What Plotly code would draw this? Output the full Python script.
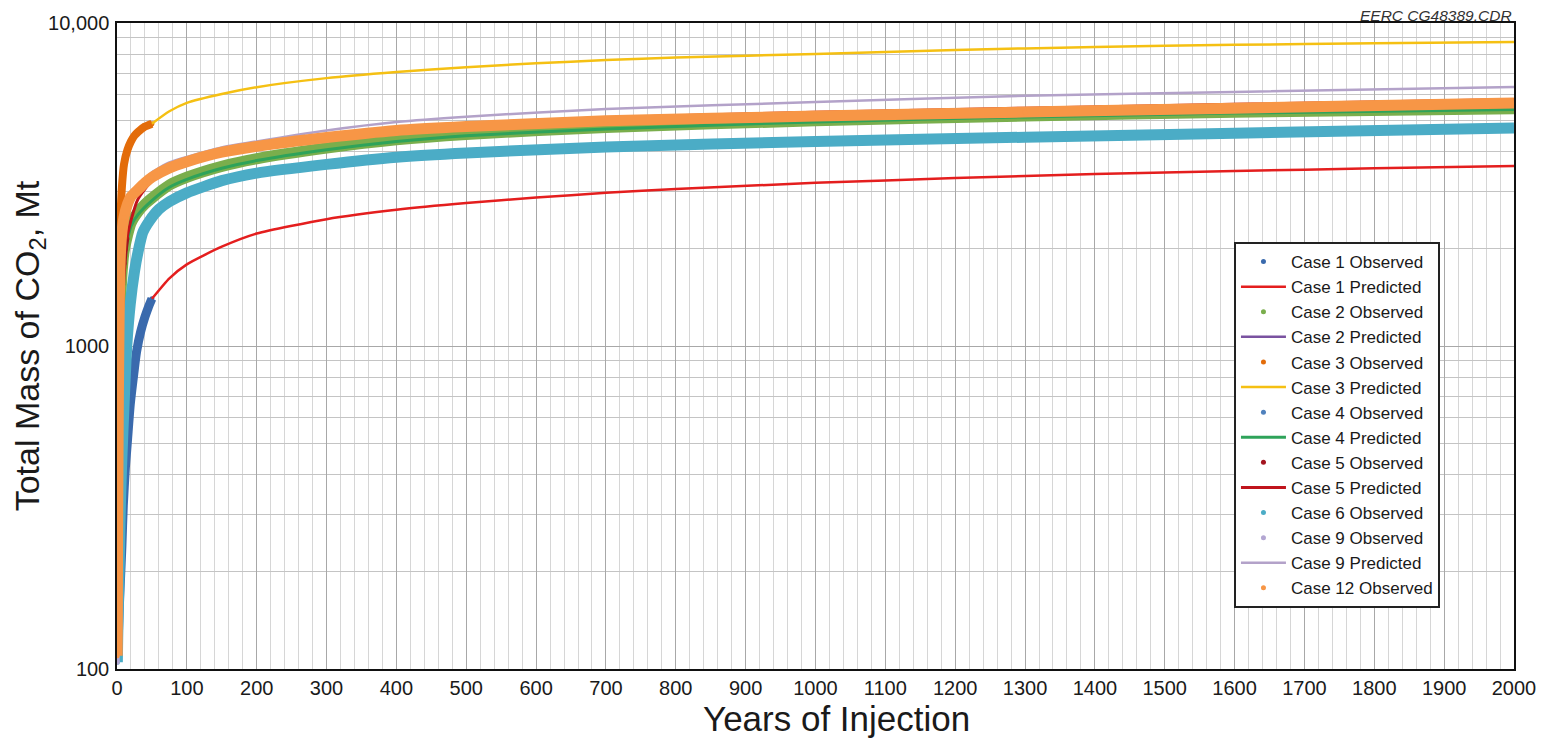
import plotly.graph_objects as go

# ---------------- data ----------------
case1_obs_x = [1, 3, 5, 7, 9, 12, 15, 19, 24, 28, 34, 40, 45, 50]
case1_obs_y = [110, 150, 190, 240, 320, 420, 510, 660, 820, 960, 1110, 1230, 1320, 1400]

case1_pred_x = [50, 75, 100, 150, 200, 300, 400, 500, 600, 700, 800, 1000, 1200, 1400, 1600, 1800, 2000]
case1_pred_y = [1400, 1620, 1790, 2030, 2230, 2470, 2640, 2770, 2880, 2980, 3060, 3200, 3310, 3410, 3480, 3550, 3610]

case2_obs_x = [0.3, 1, 2, 3, 5, 7, 10, 15, 20, 30, 40, 50, 75, 100, 150, 200, 300, 400, 500, 700, 1000, 1300, 1600, 2000]
case2_obs_y = [120, 250, 500, 800, 1300, 1650, 1950, 2200, 2400, 2600, 2750, 2870, 3150, 3330, 3600, 3800, 4100, 4350, 4520, 4750, 4980, 5150, 5290, 5430]

case2_pred_x = [10, 20, 30, 50, 75, 100, 150, 200, 300, 400, 500, 700, 1000, 1300, 1600, 2000]
case2_pred_y = [2450, 2850, 3000, 3280, 3520, 3680, 3950, 4120, 4400, 4620, 4760, 4960, 5130, 5280, 5430, 5620]

case3_obs_x = [0.2, 0.5, 1, 2, 3, 5, 7, 10, 15, 20, 25, 30, 40, 50]
case3_obs_y = [130, 280, 550, 1100, 1650, 2500, 3100, 3650, 4050, 4300, 4480, 4600, 4780, 4880]

case3_pred_x = [50, 75, 100, 150, 200, 300, 400, 500, 600, 700, 800, 1000, 1200, 1400, 1600, 1800, 2000]
case3_pred_y = [4880, 5330, 5660, 6030, 6330, 6750, 7050, 7300, 7500, 7680, 7820, 8020, 8250, 8430, 8560, 8650, 8740]

case4_obs_x = [0.5, 1, 2, 3, 4, 5]
case4_obs_y = [150, 300, 600, 1000, 1400, 1800]

case4_pred_x = [10, 20, 30, 50, 75, 100, 150, 200, 300, 400, 500, 700, 1000, 1300, 1600, 2000]
case4_pred_y = [1900, 2350, 2550, 2820, 3100, 3280, 3550, 3750, 4050, 4300, 4480, 4700, 4940, 5120, 5260, 5400]

case5_obs_x = [0.3, 1, 2, 4, 6, 8, 10, 12, 14]
case5_obs_y = [110, 200, 400, 800, 1200, 1550, 1800, 2000, 2150]

case5_pred_x = [14, 20, 30, 50, 75, 100, 150, 200, 300, 400, 500, 700, 1000, 1300, 1600, 2000]
case5_pred_y = [2150, 2450, 2850, 3250, 3550, 3730, 4000, 4180, 4470, 4720, 4870, 5090, 5290, 5450, 5600, 5800]

case6_obs_x = [0.5, 1, 2, 3, 5, 7, 10, 14, 19, 25, 30, 37, 47, 60, 75, 100, 150, 200, 300, 400, 500, 700, 1000, 1300, 1600, 2000]
case6_obs_y = [105, 125, 160, 200, 330, 450, 650, 1000, 1350, 1700, 1950, 2250, 2450, 2650, 2800, 2980, 3250, 3430, 3650, 3840, 3960, 4130, 4300, 4430, 4560, 4730]

case9_obs_x = [0.3, 1, 2, 3, 4, 5, 7]
case9_obs_y = [105, 170, 330, 550, 800, 1100, 1600]

case9_pred_x = [7, 10, 20, 30, 50, 75, 100, 150, 200, 300, 400, 500, 700, 1000, 1300, 1600, 2000]
case9_pred_y = [1600, 2150, 2800, 3100, 3450, 3700, 3850, 4120, 4300, 4650, 4940, 5130, 5420, 5690, 5950, 6120, 6340]

case12_obs_x = [0.3, 0.6, 1, 2, 3, 4, 5, 7, 10, 15, 20, 30, 40, 50, 75, 100, 150, 200, 300, 400, 500, 700, 1000, 1300, 1600, 2000]
case12_obs_y = [110, 180, 300, 700, 1200, 1650, 1950, 2250, 2500, 2750, 2900, 3050, 3200, 3330, 3560, 3720, 3980, 4150, 4420, 4650, 4780, 4980, 5150, 5300, 5450, 5650]

x_ticks = list(range(0, 2001, 100))
y_ticks = [100, 1000, 10000]
y_tick_text = ["100", "1000", "10,000"]

FONT = "Arial, Liberation Sans, Helvetica, sans-serif"

fig = go.Figure()

def observed(name, xs, ys, color, width):
    # thick band of dense observation dots, legend shows a dot
    fig.add_trace(go.Scatter(x=xs, y=ys, mode="lines", name=name, legendgroup=name,
                             showlegend=False, hoverinfo="skip",
                             line=dict(color=color, width=width, shape="spline", smoothing=0.6)))
    fig.add_trace(go.Scatter(x=xs, y=ys, mode="markers", name=name, legendgroup=name,
                             marker=dict(color=color, size=5)))

def predicted(name, xs, ys, color, width=2.5):
    fig.add_trace(go.Scatter(x=xs, y=ys, mode="lines", name=name,
                             line=dict(color=color, width=width, shape="spline", smoothing=0.6)))

observed("Case 1 Observed", case1_obs_x, case1_obs_y, "#3a6aad", 9)
predicted("Case 1 Predicted", case1_pred_x, case1_pred_y, "#e41e1e")
observed("Case 2 Observed", case2_obs_x, case2_obs_y, "#7aae4c", 11)
predicted("Case 2 Predicted", case2_pred_x, case2_pred_y, "#7a52a0")
observed("Case 3 Observed", case3_obs_x, case3_obs_y, "#e36c0a", 8)
predicted("Case 3 Predicted", case3_pred_x, case3_pred_y, "#f5c013")
observed("Case 4 Observed", case4_obs_x, case4_obs_y, "#4f81bd", 5)
predicted("Case 4 Predicted", case4_pred_x, case4_pred_y, "#2ea35a", 3)
observed("Case 5 Observed", case5_obs_x, case5_obs_y, "#a3141f", 5)
predicted("Case 5 Predicted", case5_pred_x, case5_pred_y, "#c0141c", 3)
observed("Case 6 Observed", case6_obs_x, case6_obs_y, "#4bacc6", 11)
observed("Case 9 Observed", case9_obs_x, case9_obs_y, "#b3a6d2", 5)
predicted("Case 9 Predicted", case9_pred_x, case9_pred_y, "#b3a2c9")
observed("Case 12 Observed", case12_obs_x, case12_obs_y, "#f79646", 11)

# the page body has an 8px margin, so the figure is drawn 8px smaller
fig.update_layout(
    width=1539, height=730,
    margin=dict(l=109, r=33, t=15, b=69, autoexpand=False),
    paper_bgcolor="white", plot_bgcolor="white",
    font=dict(family=FONT, color="#1a1a1a"),
    showlegend=True,
    legend=dict(
        x=0.947, y=0.661, xanchor="right", yanchor="top",
        bgcolor="white", bordercolor="#222222", borderwidth=2,
        font=dict(family=FONT, size=17, color="#1a1a1a"),
        tracegroupgap=0, itemwidth=45,
        entrywidth=215, entrywidthmode="pixels",
    ),
    xaxis=dict(
        range=[0, 2000], tickvals=x_ticks, ticks="", ticklabelstandoff=0,
        tickfont=dict(size=20), automargin=False,
        showgrid=True, gridcolor="#a8a8a8", gridwidth=1.3,
        minor=dict(dtick=20, tick0=0, showgrid=True, gridcolor="#d6d6d6", gridwidth=1),
        showline=True, linecolor="#111111", linewidth=2, mirror=True,
        zeroline=False,
    ),
    yaxis=dict(
        type="log", range=[2, 4], tickvals=y_ticks, ticktext=y_tick_text, ticks="",
        ticklabelstandoff=2, tickfont=dict(size=20), automargin=False,
        showgrid=True, gridcolor="#a8a8a8", gridwidth=1.3,
        minor=dict(tickvals=[200, 300, 400, 500, 600, 700, 800, 900,
                             2000, 3000, 4000, 5000, 6000, 7000, 8000, 9000],
                   showgrid=True, gridcolor="#c4c4c4", gridwidth=1),
        showline=True, linecolor="#111111", linewidth=1.5, mirror=True,
        zeroline=False,
        title=dict(text="Total Mass of CO<sub>2</sub>, Mt", font=dict(size=34), standoff=0),
    ),
    annotations=[
        dict(text="<i>EERC CG48389.CDR</i>", xref="paper", yref="paper",
             x=1.0, y=1.0, xanchor="right", yanchor="bottom", showarrow=False,
             font=dict(family=FONT, size=15.5, color="#333333"), yshift=-3),
        # x-axis title (sits a little right of centre in the reference)
        dict(text="Years of Injection", xref="paper", yref="paper",
             x=0.5147, y=0, xanchor="center", yanchor="top", yshift=-28,
             showarrow=False, font=dict(family=FONT, size=35, color="#1a1a1a")),
    ],
)

fig.write_html("out.html")
